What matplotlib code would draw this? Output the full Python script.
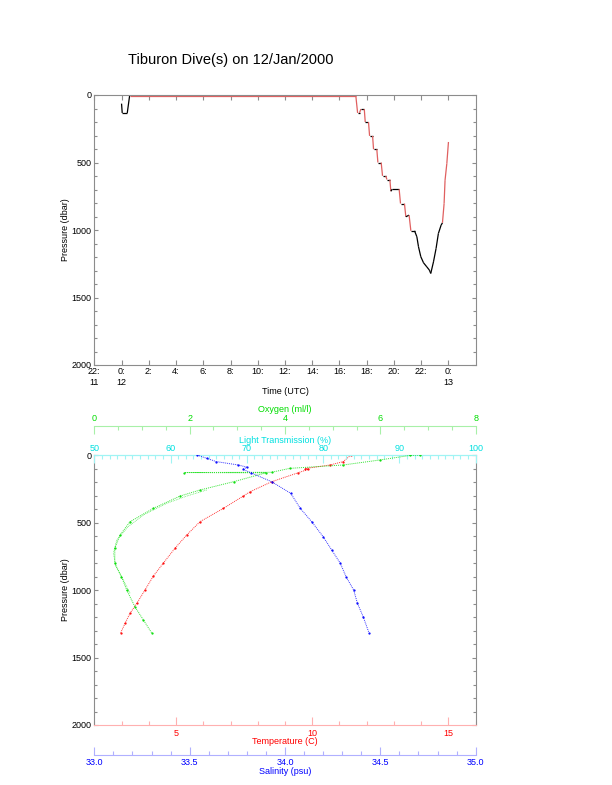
import numpy as np
import matplotlib as mpl
mpl.use('Agg')
import matplotlib.pyplot as plt
from matplotlib.collections import LineCollection
from matplotlib.ticker import MultipleLocator

plt.rcParams['font.family'] = ['Liberation Sans', 'DejaVu Sans']
plt.rcParams['font.size'] = 6.5

# dive track: hours since 0:00 on 12/Jan/2000, pressure in dbar
dive_hours = [0.00, 0.05, 0.42, 0.59, 17.20, 17.33, 17.47, 17.57, 17.82, 17.89,
              18.13, 18.21, 18.43, 18.50, 18.74, 18.82, 19.06, 19.16, 19.40, 19.48,
              19.70, 19.77, 19.87, 20.38, 20.48, 20.77, 20.87, 21.11, 21.24, 21.51,
              21.68, 21.80, 21.97, 22.17, 22.41, 22.60, 22.70, 22.90, 23.09, 23.26,
              23.46, 23.56, 23.68, 23.75, 23.88, 24.00]
dive_pres = [64, 133, 133, 7, 7, 133, 133, 104, 104, 200,
             200, 303, 303, 402, 402, 500, 500, 599, 599, 626,
             626, 713, 698, 698, 804, 804, 902, 890, 1006, 1006,
             1050, 1124, 1198, 1243, 1273, 1297, 1322, 1236, 1137, 1026,
             964, 947, 804, 631, 508, 348]
# 1 = segment drawn red, 0 = black (one flag per segment)
dive_red = [0, 0, 0, 1, 1, 0, 1, 0, 1, 0,
            1, 0, 1, 0, 1, 0, 1, 0, 1, 0,
            1, 0, 0, 1, 0, 1, 0, 1, 0, 0,
            0, 0, 0, 0, 0, 0, 0, 0, 0, 0,
            0, 1, 1, 1, 1]

hour_ticks = list(range(-2, 25, 2))
hour_labels = ['22:\n11', '0:\n12', '2:', '4:', '6:', '8:', '10:', '12:', '14:',
               '16:', '18:', '20:', '22:', '0:\n13']

# CTD profiles
temp_pres = [0, 49, 74, 100, 106, 131, 198, 272, 304, 395, 494, 593, 691, 802, 896,
             1000, 1099, 1173, 1247, 1316]
temp_vals = [11.42, 11.14, 10.65, 9.75, 9.86, 9.49, 8.51, 7.72, 7.47, 6.74, 5.88, 5.39,
             4.96, 4.53, 4.17, 3.86, 3.56, 3.31, 3.13, 2.97]

sal_pres = [0, 25, 49, 74, 90, 106, 131, 198, 284, 395, 494, 605, 704, 802, 901,
            1000, 1099, 1198, 1316]
sal_vals = [33.54, 33.59, 33.64, 33.755, 33.80, 33.78, 33.82, 33.93, 34.03, 34.08,
            34.14, 34.20, 34.245, 34.29, 34.32, 34.36, 34.38, 34.41, 34.44]

oxy_pres = [0, 3, 37, 74, 99, 128, 130, 132, 198, 259, 304, 395, 494, 593, 691,
            802, 901, 1000, 1123, 1222, 1316]
oxy_vals = [6.83, 6.62, 5.99, 5.22, 4.10, 3.72, 1.89, 3.60, 2.92, 2.22, 1.80, 1.24,
            0.75, 0.54, 0.43, 0.43, 0.57, 0.68, 0.85, 1.03, 1.20]
oxy2_pres = [259, 304, 358, 444, 531, 630, 728, 827, 926, 1025]
oxy2_vals = [2.36, 1.94, 1.52, 1.03, 0.71, 0.47, 0.40, 0.455, 0.61, 0.75]

W, H = 612, 785
fig = plt.figure(figsize=(W / 100., H / 100.), dpi=100)

def fbox(x0, y0, x1, y1):
    return [x0 / W, 1 - y1 / H, (x1 - x0) / W, (y1 - y0) / H]

grey = '#8c8c8c'
fig.text(231 / W, 1 - 60 / H, 'Tiburon Dive(s) on 12/Jan/2000', fontsize=10.5,
         ha='center', va='center')

# ---- top panel: pressure vs time
ax1 = fig.add_axes(fbox(94.3, 95, 475.7, 365))
pts = np.column_stack([dive_hours, dive_pres])
segs = np.stack([pts[:-1], pts[1:]], axis=1)
cols = ['#e06060' if r else 'black' for r in dive_red]
lws = [0.9 if r else 0.9 for r in dive_red]
ax1.add_collection(LineCollection(segs, colors=cols, linewidths=lws))
ax1.set_xlim(-2, 26)
ax1.set_ylim(2000, 0)
ax1.set_xticks(hour_ticks)
ax1.set_xticklabels(hour_labels, linespacing=1.25)
ax1.yaxis.set_major_locator(MultipleLocator(500))
ax1.yaxis.set_minor_locator(MultipleLocator(100))
ax1.tick_params(axis='both', which='both', direction='in', color=grey, width=0.8,
                top=True, right=True)
ax1.tick_params(axis='x', which='major', length=3.5, pad=1.5)
ax1.tick_params(axis='y', which='major', length=3.2, pad=1.8)
ax1.tick_params(axis='y', which='minor', length=2.2)
for s in ax1.spines.values():
    s.set_color(grey)
    s.set_linewidth(0.8)
ax1.set_xlabel('Time (UTC)', va='center')
ax1.xaxis.set_label_coords(0.5, (365 - 391) / 270.)
ax1.set_ylabel('Pressure (dbar)', va='center')
ax1.yaxis.set_label_coords((65 - 94.3) / 381.4, 0.5)

# ---- bottom panel: profiles
red, red_l = '#ff0000', '#ffb0b0'
blue, blue_l = '#0000ff', '#b0b0ff'
green, green_l = '#00dd00', '#a8f0a8'
cyan, cyan_l = '#00e0e0', '#a0f4f4'

ax2 = fig.add_axes(fbox(94.3, 455, 475.7, 725))
ax2.set_xlim(2, 16)
ax2.set_ylim(2000, 0)
ax2.yaxis.set_major_locator(MultipleLocator(500))
ax2.yaxis.set_minor_locator(MultipleLocator(100))
ax2.xaxis.set_major_locator(MultipleLocator(5))
ax2.xaxis.set_minor_locator(MultipleLocator(1))
ax2.tick_params(axis='y', which='both', direction='in', color=grey, width=0.8,
                right=True, left=True)
ax2.tick_params(axis='y', which='major', length=3.2, pad=1.8)
ax2.tick_params(axis='y', which='minor', length=2.2)
ax2.tick_params(axis='x', which='both', direction='in', color=red_l, width=0.8,
                labelcolor=red, top=False)
ax2.tick_params(axis='x', which='major', length=6, pad=3)
ax2.tick_params(axis='x', which='minor', length=3.2)
ax2.spines['left'].set_color(grey)
ax2.spines['right'].set_color(grey)
ax2.spines['bottom'].set_color(red_l)
ax2.spines['top'].set_color(cyan_l)
for s in ax2.spines.values():
    s.set_linewidth(0.8)
ax2.set_ylabel('Pressure (dbar)', va='center')
ax2.yaxis.set_label_coords((65 - 94.3) / 381.4, 0.5)
ax2.set_xlabel('Temperature (C)', color=red, va='center')
ax2.xaxis.set_label_coords(0.5, (725 - 742) / 270.)

def side_axis(where, offset_pt, lo, hi, major, minor, col, col_l, label, label_y, pad):
    a = ax2.twiny()
    a.set_xlim(lo, hi)
    for k, s in a.spines.items():
        s.set_visible(k == where)
    a.spines[where].set_color(col_l)
    a.spines[where].set_linewidth(0.8)
    a.spines[where].set_position(('outward', offset_pt))
    a.xaxis.set_ticks_position(where)
    a.xaxis.set_label_position(where)
    a.xaxis.set_major_locator(MultipleLocator(major))
    a.xaxis.set_minor_locator(MultipleLocator(minor))
    a.tick_params(axis='x', which='both', direction='in', color=col_l, width=0.8,
                  labelcolor=col, pad=pad)
    a.tick_params(axis='x', which='major', length=6)
    a.tick_params(axis='x', which='minor', length=3.2)
    a.set_xlabel(label, color=col, va='center')
    a.xaxis.set_label_coords(0.5, label_y)
    return a

ax_lt = side_axis('top', 0, 50, 100, 10, 1, cyan, cyan_l,
                  'Light Transmission (%)', 1 + (455 - 440) / 270., 1.5)
ax_ox = side_axis('top', 21.1, 0, 8, 2, 0.5, green, green_l,
                  'Oxygen (ml/l)', 1 + (455 - 409) / 270., 2.0)
ax_sal = side_axis('bottom', 21.6, 33.0, 35.0, 0.5, 0.1, blue, blue_l,
                   'Salinity (psu)', (725 - 771) / 270., 2.5)
ax_sal.xaxis.set_major_formatter(mpl.ticker.FormatStrFormatter('%.1f'))

dots = (0, (1, 1))
ax2.plot(temp_vals, temp_pres, color=red, lw=0.7, ls=dots, alpha=0.8)
ax2.plot(temp_vals, temp_pres, '.', color=red, ms=1.2)
ax_sal.plot(sal_vals, sal_pres, color=blue, lw=0.7, ls=dots, alpha=0.8)
ax_sal.plot(sal_vals, sal_pres, '.', color=blue, ms=1.2)
ax_ox.plot(oxy_vals, oxy_pres, color=green, lw=0.7, ls=dots, alpha=0.8)
ax_ox.plot(oxy2_vals, oxy2_pres, color=green, lw=0.6, ls=dots, alpha=0.6)
ax_ox.plot(oxy_vals, oxy_pres, '.', color=green, ms=1.2)

fig.savefig('out.png', dpi=100)
